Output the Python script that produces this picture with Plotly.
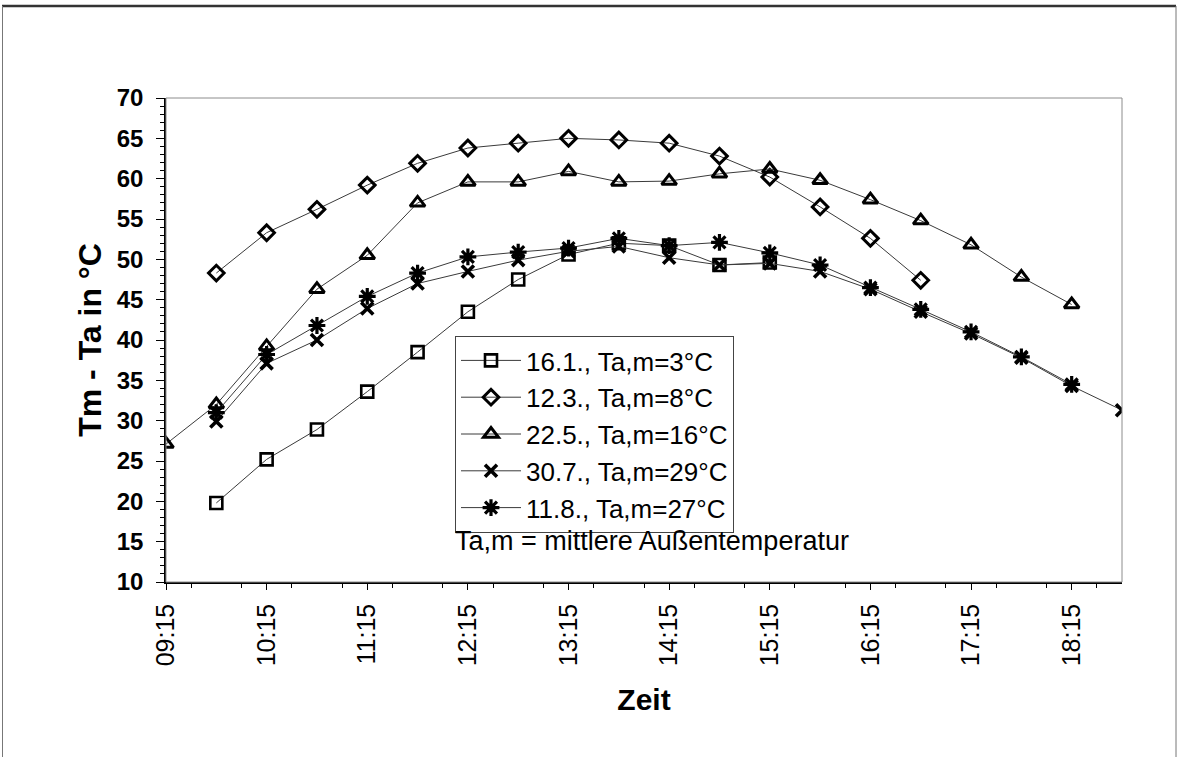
import plotly.graph_objects as go

# Half-hourly sampling times (hh:mm)
times_161 = ["09:45", "10:15", "10:45", "11:15", "11:45", "12:15", "12:45",
             "13:15", "13:45", "14:15", "14:45", "15:15"]
temps_161 = [19.8, 25.2, 28.9, 33.6, 38.5, 43.5, 47.5, 50.6, 52.0, 51.7, 49.3, 49.6]

times_123 = ["09:45", "10:15", "10:45", "11:15", "11:45", "12:15", "12:45", "13:15",
             "13:45", "14:15", "14:45", "15:15", "15:45", "16:15", "16:45"]
temps_123 = [48.3, 53.3, 56.2, 59.2, 61.9, 63.8, 64.4, 65.0,
             64.8, 64.4, 62.8, 60.2, 56.5, 52.6, 47.4]

times_225 = ["09:15", "09:45", "10:15", "10:45", "11:15", "11:45", "12:15", "12:45",
             "13:15", "13:45", "14:15", "14:45", "15:15", "15:45", "16:15", "16:45",
             "17:15", "17:45", "18:15"]
temps_225 = [27.1, 32.0, 39.2, 46.3, 50.5, 57.0, 59.6, 59.6,
             60.9, 59.6, 59.7, 60.6, 61.2, 59.8, 57.4, 54.8,
             51.8, 47.8, 44.4]

times_307 = ["09:45", "10:15", "10:45", "11:15", "11:45", "12:15", "12:45", "13:15",
             "13:45", "14:15", "14:45", "15:15", "15:45", "16:15", "16:45", "17:15",
             "17:45", "18:15", "18:45"]
temps_307 = [29.9, 37.1, 40.0, 43.9, 47.0, 48.5, 49.9, 51.0,
             51.6, 50.2, 49.3, 49.5, 48.5, 46.3, 43.5, 40.8,
             37.8, 34.3, 31.3]

times_118 = ["09:45", "10:15", "10:45", "11:15", "11:45", "12:15", "12:45", "13:15",
             "13:45", "14:15", "14:45", "15:15", "15:45", "16:15", "16:45", "17:15",
             "17:45", "18:15"]
temps_118 = [31.0, 38.2, 41.8, 45.4, 48.3, 50.3, 50.9, 51.4,
             52.6, 51.7, 52.1, 50.8, 49.3, 46.5, 43.8, 41.0,
             37.9, 34.5]

series_names = ["16.1., Ta,m=3°C", "12.3., Ta,m=8°C", "22.5., Ta,m=16°C",
                "30.7., Ta,m=29°C", "11.8., Ta,m=27°C"]

DAY = "2000-01-01 "


def stamp(ts):
    return [DAY + t for t in ts]


FONT = "Liberation Sans, Arial, sans-serif"

styles = [
    dict(symbol="square-open", size=12, line=dict(width=2.6, color="black")),
    dict(symbol="diamond-open", size=12, line=dict(width=3.0, color="black")),
    dict(symbol="triangle-up-open", size=13, line=dict(width=3.0, color="black")),
    dict(symbol="x-thin-open", size=12, line=dict(width=3.6, color="black")),
    dict(symbol="asterisk-open", size=14, line=dict(width=3.2, color="black")),
]

data = [(times_161, temps_161), (times_123, temps_123), (times_225, temps_225),
        (times_307, temps_307), (times_118, temps_118)]

fig = go.Figure()
for (ts, vs), name, mk in zip(data, series_names, styles):
    fig.add_trace(go.Scatter(
        x=stamp(ts), y=vs, name=name, mode="lines+markers",
        line=dict(color="#3a3a3a", width=1),
        marker=dict(color="black", **mk),
    ))

# Page frame and plot-area frame
L, R, T, B = 166, 56, 98, 175
W, H = 1178, 757
pw, ph = W - L - R, H - T - B


def px_x(p):
    return (p - L) / pw


def px_y(p):
    return (H - B - p) / ph


fig.add_shape(type="rect", xref="x domain", yref="y domain", x0=0, x1=1, y0=0, y1=1,
              line=dict(color="#8c8c8c", width=1))
fig.add_shape(type="line", xref="paper", yref="paper",
              x0=px_x(2), x1=px_x(1176), y0=px_y(6), y1=px_y(6),
              line=dict(color="#333333", width=2.5))
fig.add_shape(type="line", xref="paper", yref="paper",
              x0=px_x(2.5), x1=px_x(2.5), y0=px_y(6), y1=px_y(757),
              line=dict(color="#777777", width=1))
fig.add_shape(type="line", xref="paper", yref="paper",
              x0=px_x(1176), x1=px_x(1176), y0=px_y(6), y1=px_y(757),
              line=dict(color="#777777", width=1))

fig.add_annotation(text="Ta,m = mittlere Außentemperatur", xref="paper", yref="paper",
                   x=px_x(652), y=px_y(558), showarrow=False,
                   font=dict(family=FONT, size=27, color="black"))

fig.update_layout(
    width=W, height=H,
    margin=dict(l=L, r=R, t=T, b=B),
    paper_bgcolor="white", plot_bgcolor="white",
    font=dict(family=FONT, color="black"),
    showlegend=True,
    legend=dict(
        x=px_x(455), y=px_y(336), xanchor="left", yanchor="top",
        bgcolor="white", bordercolor="#444444", borderwidth=1,
        font=dict(family=FONT, size=26, color="black"),
        tracegroupgap=0, itemwidth=60,
    ),
    xaxis=dict(
        type="date",
        range=[DAY + "09:15", DAY + "18:45"],
        tick0=DAY + "09:15", dtick=3600000, tickformat="%H:%M",
        tickangle=-90, ticks="outside", ticklen=6, tickcolor="black",
        ticklabelstandoff=4,
        showline=True, linecolor="black", linewidth=1.5,
        showgrid=False, zeroline=False,
        tickfont=dict(family=FONT, size=25, color="black"),
        minor=dict(dtick=1800000, ticks="outside", ticklen=4, tickcolor="black"),
        title=dict(text="Zeit", standoff=24,
                   font=dict(family=FONT, size=30, color="black", weight="bold")),
    ),
    yaxis=dict(
        range=[10, 70], dtick=5, tick0=10,
        ticks="outside", ticklen=8, tickcolor="black",
        ticklabelstandoff=8,
        showline=True, linecolor="black", linewidth=1.5,
        showgrid=False, zeroline=False,
        tickfont=dict(family=FONT, size=24, color="black", weight="bold"),
        minor=dict(dtick=1, ticks="outside", ticklen=4, tickcolor="black"),
        title=dict(text="Tm - Ta in °C", standoff=6,
                   font=dict(family=FONT, size=32, color="black", weight="bold")),
    ),
)

fig.write_html("out.html")
